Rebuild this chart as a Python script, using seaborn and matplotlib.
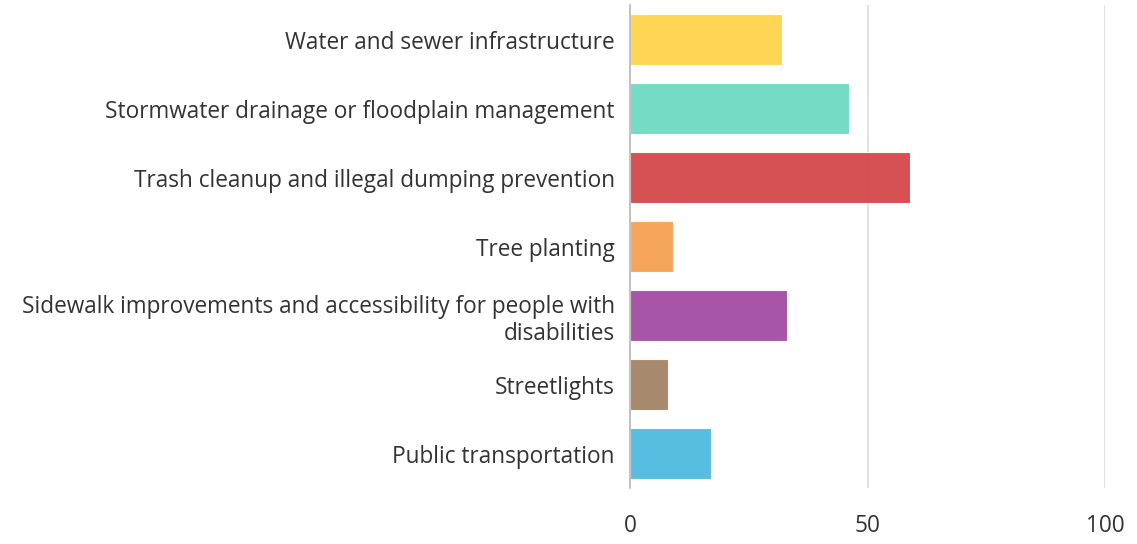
import matplotlib
matplotlib.use("Agg")
import matplotlib.pyplot as plt
import seaborn as sns
import pandas as pd

categories = [
    "Water and sewer infrastructure",
    "Stormwater drainage or floodplain management",
    "Trash cleanup and illegal dumping prevention",
    "Tree planting",
    "Sidewalk improvements and accessibility for people with\ndisabilities",
    "Streetlights",
    "Public transportation",
]
values = [32, 46, 59, 9, 33, 8, 17]
colors = ["#FFD34D", "#6CD9C2", "#D4474B", "#F5A050", "#A44CA2", "#A28466", "#4FBBE0"]
x_ticks = [0, 50, 100]

sns.set_theme(style="white")
plt.rcParams["font.family"] = ["Open Sans", "DejaVu Sans"]

df = pd.DataFrame({"category": categories, "value": values})

fig = plt.figure(figsize=(11.37, 5.44), dpi=100)
ax = fig.add_axes([630 / 1137, 1 - 488 / 544, 475 / 1137, 483 / 544])

sns.barplot(
    data=df, x="value", y="category", hue="category",
    palette=dict(zip(categories, colors)), orient="h", legend=False,
    saturation=1, width=0.74, alpha=0.95, edgecolor="white", linewidth=0.8, ax=ax,
)

ax.set_xlim(0, 100)
ax.set_xticks(x_ticks)
ax.set_xlabel("")
ax.set_ylabel("")
for side in ["top", "right", "bottom"]:
    ax.spines[side].set_visible(False)
ax.spines["left"].set_color("#b8b8b8")
ax.spines["left"].set_linewidth(1.2)
ax.set_axisbelow(True)
ax.xaxis.grid(True, color="#dddddd", linewidth=1.2)
ax.yaxis.grid(False)
ax.tick_params(axis="x", length=0, pad=19, labelsize=16.3, labelcolor="#333333")
ax.tick_params(axis="y", length=0, pad=11, labelsize=16.3, labelcolor="#333333")
for lbl in ax.get_yticklabels():
    lbl.set_horizontalalignment("right")
    lbl.set_multialignment("right")
    lbl.set_linespacing(1.2)

fig.savefig("out.png", dpi=100, facecolor="white")
